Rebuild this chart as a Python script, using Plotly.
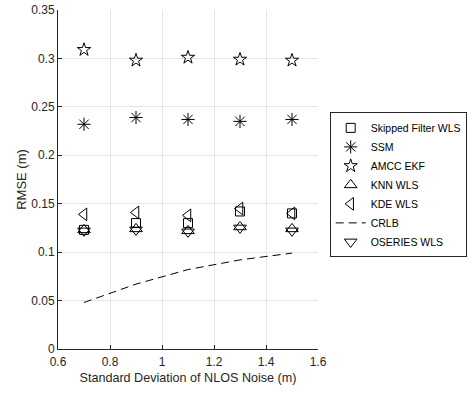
import plotly.graph_objects as go

x = [0.7, 0.9, 1.1, 1.3, 1.5]
skipped = [0.123, 0.130, 0.130, 0.142, 0.140]
ssm = [0.232, 0.239, 0.237, 0.235, 0.237]
amcc = [0.309, 0.298, 0.301, 0.299, 0.298]
knn = [0.123, 0.124, 0.122, 0.126, 0.124]
kde = [0.139, 0.141, 0.138, 0.145, 0.140]
crlb = [0.048, 0.067, 0.082, 0.092, 0.099]
oseries = [0.122, 0.123, 0.121, 0.125, 0.122]

x_ticks = [0.6, 0.8, 1.0, 1.2, 1.4, 1.6]
x_ticklabels = ["0.6", "0.8", "1", "1.2", "1.4", "1.6"]
y_ticks = [0, 0.05, 0.1, 0.15, 0.2, 0.25, 0.3, 0.35]
y_ticklabels = ["0", "0.05", "0.1", "0.15", "0.2", "0.25", "0.3", "0.35"]

FONT = "Liberation Sans, Arial, sans-serif"

fig = go.Figure()

def mk(name, y, symbol, size):
    fig.add_trace(go.Scatter(
        x=x, y=y, mode="markers", name=name,
        marker=dict(symbol=symbol, size=size, color="black",
                    line=dict(color="black", width=1)),
    ))

mk("Skipped Filter WLS", skipped, "square-open", 9)
mk("SSM", ssm, "asterisk-open", 11)
mk("AMCC EKF", amcc, "star-open", 10)
mk("KNN WLS", knn, "triangle-up-open", 11)
mk("KDE WLS", kde, "triangle-left-open", 11)
fig.add_trace(go.Scatter(
    x=x, y=crlb, mode="lines", name="CRLB",
    line=dict(color="black", width=1, dash="8px,5px"),
))
mk("OSERIES WLS", oseries, "triangle-down-open", 11)

fig.update_layout(
    width=473, height=395,
    margin=dict(l=58, r=155, t=10, b=46, autoexpand=False),
    paper_bgcolor="white", plot_bgcolor="white",
    font=dict(family=FONT, size=12, color="#262626"),
    showlegend=True,
    legend=dict(
        x=1.045, y=0.698, xanchor="left", yanchor="top",
        bgcolor="white", bordercolor="#262626", borderwidth=1,
        font=dict(family=FONT, size=10.5, color="black"),
        tracegroupgap=0,
    ),
)

fig.update_xaxes(
    range=[0.6, 1.6], tickvals=x_ticks, ticktext=x_ticklabels,
    showgrid=True, gridcolor="#e6e6e6", gridwidth=1,
    showline=True, linecolor="#262626", linewidth=1,
    ticks="inside", ticklen=4, tickcolor="#262626",
    ticklabelstandoff=2, automargin=False,
    zeroline=False,
    title=dict(text="Standard Deviation of NLOS Noise (m)", font=dict(size=12.6), standoff=4),
)
fig.update_yaxes(
    range=[0, 0.35], tickvals=y_ticks, ticktext=y_ticklabels,
    showgrid=True, gridcolor="#e6e6e6", gridwidth=1,
    showline=True, linecolor="#262626", linewidth=1,
    ticks="inside", ticklen=4, tickcolor="#262626",
    automargin=False,
    zeroline=False,
    title=dict(text="RMSE (m)", font=dict(size=13), standoff=1),
)

fig.write_html("out.html")
